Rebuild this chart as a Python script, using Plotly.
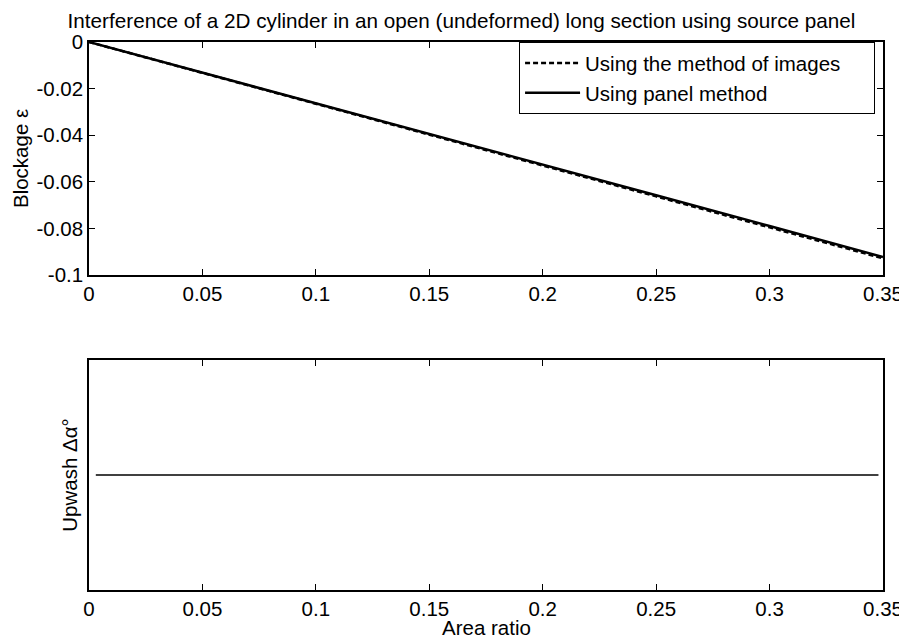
import plotly.graph_objects as go
from plotly.subplots import make_subplots

# area ratio (x) and blockage
area_ratio = [0.0, 0.05, 0.1, 0.15, 0.2, 0.25, 0.3, 0.35]
blockage_images = [0.0, -0.0132, -0.0265, -0.0398, -0.0531, -0.0663, -0.0796, -0.0929]
blockage_panel = [0.0, -0.0131, -0.0263, -0.0395, -0.0527, -0.0658, -0.0790, -0.0923]

upwash_x = [0.003, 0.05, 0.1, 0.15, 0.2, 0.25, 0.3, 0.348]
upwash = [0, 0, 0, 0, 0, 0, 0, 0]

x_ticks = [0, 0.05, 0.1, 0.15, 0.2, 0.25, 0.3, 0.35]
x_labels = ["0", "0.05", "0.1", "0.15", "0.2", "0.25", "0.3", "0.35"]
y_ticks = [0, -0.02, -0.04, -0.06, -0.08, -0.1]
y_labels = ["0", "-0.02", "-0.04", "-0.06", "-0.08", "-0.1"]

font = "Liberation Sans, Arial, sans-serif"
fs = 20.5
pad = "\u00a0" * 5  # extra room on the right of the legend box

fig = make_subplots(rows=2, cols=1)

fig.add_trace(go.Scatter(x=area_ratio, y=blockage_images, mode="lines",
                         name="Using the method of images" + pad,
                         line=dict(color="black", width=2.5, dash="5px,3px")), row=1, col=1)
fig.add_trace(go.Scatter(x=area_ratio, y=blockage_panel, mode="lines",
                         name="Using panel method",
                         line=dict(color="black", width=2.5)), row=1, col=1)
fig.add_trace(go.Scatter(x=upwash_x, y=upwash, mode="lines", showlegend=False,
                         line=dict(color="black", width=1.5)), row=2, col=1)

axis_style = dict(showline=True, linecolor="black", linewidth=1.5, mirror="ticks",
                  ticks="inside", ticklen=6, tickcolor="black", showgrid=False,
                  zeroline=False, tickfont=dict(family=font, size=fs, color="black"))
title_font = dict(family=font, size=fs, color="black")

fig.update_xaxes(range=[0, 0.35], tickvals=x_ticks, ticktext=x_labels, domain=[0, 1], **axis_style)
fig.update_yaxes(**axis_style)
fig.update_yaxes(range=[-0.1, 0], tickvals=y_ticks, ticktext=y_labels,
                 domain=[0.575, 1], row=1, col=1,
                 title=dict(text="Blockage ε", font=title_font, standoff=2))
fig.update_yaxes(range=[-1, 1], tickvals=[], domain=[0, 0.42], row=2, col=1,
                 title=dict(text="Upwash Δα°", font=title_font, standoff=0))

# x axis title placed as an annotation so it sits tight under the tick labels
fig.add_annotation(text="Area ratio", xref="paper", yref="paper", x=0.5, y=-0.069,
                   xanchor="center", yanchor="middle", showarrow=False, font=title_font)

fig.update_layout(
    width=907, height=641,
    margin=dict(l=81, r=32, t=34, b=59),
    paper_bgcolor="white", plot_bgcolor="white",
    title=dict(text="Interference of a 2D cylinder in an open (undeformed) long section using source panel",
               font=dict(family=font, size=20.7, color="black"),
               x=0.5, xanchor="center", y=0.98, yanchor="middle"),
    legend=dict(x=0.99, y=0.934, xanchor="right", yanchor="middle",
                bgcolor="white", bordercolor="black", borderwidth=1,
                font=dict(family=font, size=fs, color="black"),
                tracegroupgap=0, itemwidth=55),
    showlegend=True,
)

fig.write_html("out.html")
